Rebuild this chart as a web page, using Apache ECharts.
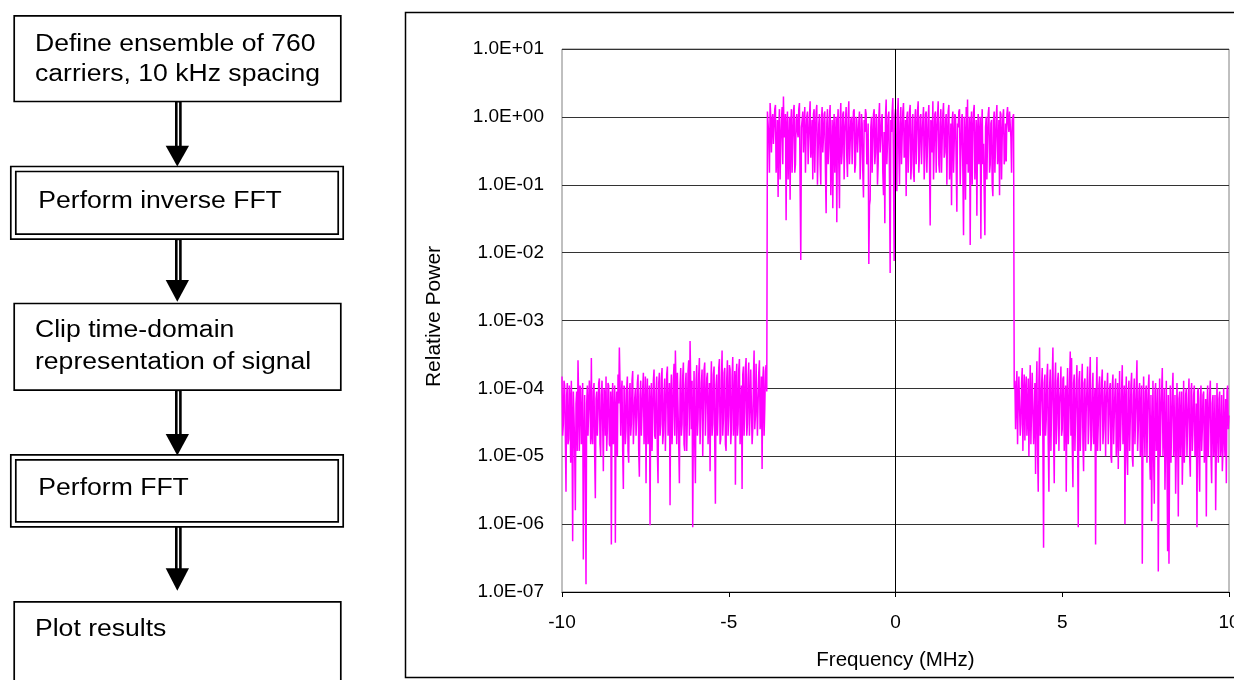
<!DOCTYPE html>
<html>
<head>
<meta charset="utf-8">
<title>Clipped OFDM spectrum</title>
<script src="https://cdn.jsdelivr.net/npm/echarts@6.0.0/dist/echarts.min.js"></script>
<style>
  html, body { margin: 0; padding: 0; background: #fff; }
  #chart { width: 1234px; height: 680px; }
</style>
</head>
<body>
<div id="chart"></div>
<script>
// FFT bin spacing and the first bin of each spectral region (MHz)
const BIN_STEP = 0.02;
const LOWER_START = -10;
const CARRIER_START = -3.84;
const UPPER_START = 3.56;

// Out-of-band regrowth below the carrier block (relative power)
const lowerSideband = [
  1.5e-4, 2e-5, 3e-5, 1.3e-4, 1.1e-4, 2e-5, 3e-6, 8e-5, 1.2e-4, 1.5e-5,
  1.8e-5, 1.1e-4, 7e-5, 8e-6, 1.3e-4, 3e-5, 5.6e-7, 9e-5, 4e-5, 1.2e-5,
  1.6e-6, 6e-5, 9e-5, 1.2e-5, 2.6e-4, 7e-5, 1.2e-5, 1.1e-4, 1e-4, 1.5e-5,
  3e-5, 1.2e-4, 3e-7, 1.5e-5, 8e-5, 1e-5, 1.3e-7, 6e-5, 1.1e-4, 2e-5,
  2e-5, 1.3e-4, 7e-5, 1.5e-5, 2.8e-4, 2e-5, 1.5e-5, 9e-5, 1.2e-4, 1e-5,
  2.4e-6, 7e-5, 9e-5, 2e-5, 4e-5, 1.2e-4, 1.4e-4, 1.5e-5, 1e-5, 8e-5,
  1.3e-4, 3e-5, 6e-6, 1e-4, 8e-5, 2e-5, 1.5e-4, 1.2e-5, 2.5e-5, 1.2e-4,
  1.1e-4, 1.5e-5, 1.4e-5, 9e-5, 5e-7, 6e-5, 1.2e-4, 1.5e-5, 3e-5, 1.1e-4,
  5.3e-7, 5e-5, 9e-5, 1e-5, 1.6e-4, 6e-5, 4e-4, 1.2e-4, 2e-5, 8e-5,
  1.3e-4, 1.2e-5, 3.3e-6, 1.1e-4, 1e-4, 1.5e-5, 2.5e-5, 1e-4, 1.5e-4, 1.2e-5,
  8e-6, 9e-5, 1.2e-4, 2e-5, 3e-5, 1.3e-4, 1.8e-4, 1.5e-5, 1.5e-5, 7e-5,
  1e-4, 2e-5, 4e-5, 1.2e-4, 1.6e-4, 1.2e-5, 5e-6, 8e-5, 1.3e-4, 2e-5,
  2e-5, 1e-4, 1.7e-4, 1.5e-5, 3.5e-5, 1.5e-4, 4e-6, 7e-5, 1.4e-4, 1.5e-5,
  2.5e-5, 1.1e-4, 9.6e-7, 6e-5, 1.2e-4, 1.2e-5, 4e-5, 1.3e-4, 1.9e-4, 2e-5,
  1.8e-5, 9e-5, 1.5e-4, 1.2e-5, 4e-6, 1.2e-4, 1.7e-4, 2e-5, 3e-5, 1.4e-4,
  2e-4, 1.5e-5, 2.2e-5, 9e-5, 1.4e-4, 1.2e-5, 4.5e-5, 1.6e-4, 2.1e-4, 2e-5,
  2e-5, 1.2e-4, 1.9e-6, 8e-5, 1.6e-4, 1.5e-5, 3.5e-5, 1.4e-4, 2.3e-4, 2e-5,
  3.6e-4, 1e-4, 1.5e-5, 1.7e-4, 1.8e-4, 1.5e-5, 4e-6, 1.1e-4, 2e-4, 2e-5,
  3e-5, 1.5e-4, 2.4e-4, 1.5e-5, 1.2e-5, 1.1e-4, 1.7e-4, 1.2e-5, 4e-5, 1.8e-4,
  2.6e-4, 2e-5, 5e-4, 1.2e-4, 2.5e-5, 1.3e-4, 9e-7, 4e-5, 1.8e-4, 1.5e-5,
  4e-6, 1.3e-4, 2.2e-4, 2e-5, 3.5e-5, 1.6e-4, 2.8e-4, 1.5e-5, 1.5e-5, 1.2e-4,
  1.9e-4, 1e-5, 5e-5, 1.9e-4, 2.4e-4, 2e-5, 2e-5, 1.4e-4, 1.7e-4, 1.5e-5,
  4e-5, 1.2e-4, 6e-6, 9e-5, 2.5e-4, 2e-5, 3e-5, 1.6e-4, 2.1e-4, 1.5e-5,
  2e-6, 1.1e-4, 1.6e-4, 2e-5, 4.5e-5, 2e-4, 2.7e-4, 1.5e-5, 1.8e-5, 1.3e-4,
  3.6e-4, 2e-5, 3.5e-5, 1.7e-4, 2e-4, 1.5e-5, 1.2e-5, 1.4e-4, 2.6e-4, 2e-5,
  4e-5, 2.2e-4, 1.9e-4, 1.5e-5, 2.5e-5, 1.5e-4, 2.9e-4, 2e-5, 5e-5, 1.8e-4,
  3.8e-6, 1.3e-4, 2.3e-4, 2e-5, 3e-5, 1.9e-4, 2.7e-4, 1.5e-5, 1.5e-5, 1.1e-4,
  3.3e-6, 1.6e-4, 2.1e-4, 2e-5, 4.5e-5, 2e-4, 2.8e-4, 2e-5, 3e-5, 1.4e-4,
  2.4e-4, 2e-5, 5e-5, 1.9e-4, 1.8e-4, 1.5e-5, 2.5e-5, 1.5e-4, 3.6e-4, 2.5e-5,
  4e-5, 2.3e-4, 2.2e-4, 2e-5, 6e-5, 1.7e-4, 2.6e-4, 2.5e-5, 3.5e-5, 1.5e-4,
  6.5e-6, 1.3e-4, 2.1e-4, 2e-5, 5e-5, 1.8e-4, 2.2e-4, 9e-5
];

// The 760 occupied carriers after clipping
const carrierBand = [
  1.2, 0.8, 0.5, 0.15, 1.6, 1.0, 0.3, 0.9, 1.1, 0.4,
  0.7, 1.3, 1.5, 0.15, 0.25, 0.9, 0.066, 0.7, 1.3, 0.12,
  0.4, 0.9, 1.4, 0.2, 2.0, 0.5, 0.6, 1.1, 0.03, 0.7,
  1.2, 0.12, 0.35, 1.0, 0.06, 0.8, 1.3, 0.15, 0.45, 1.2,
  1.5, 0.15, 0.2, 0.9, 1.1, 0.6, 0.5, 1.3, 1.6, 0.09,
  0.0078, 0.7, 0.9, 1.2, 0.3, 0.8, 1.4, 0.15, 0.55, 1.0,
  1.2, 0.2, 0.2, 1.0, 1.7, 0.25, 0.4, 0.9, 0.12, 1.1,
  1.3, 0.15, 0.6, 1.2, 1.5, 0.1, 0.3, 0.8, 1.1, 0.2,
  0.1, 0.9, 1.4, 0.3, 0.5, 1.1, 1.2, 0.15, 0.038, 0.8,
  1.3, 0.2, 0.35, 1.0, 1.5, 0.07, 0.25, 0.9, 0.045, 0.6,
  1.1, 0.15, 0.5, 1.0, 0.028, 0.8, 1.3, 0.2, 0.045, 0.9,
  1.6, 0.2, 0.3, 1.1, 1.2, 0.12, 0.6, 0.9, 1.4, 0.25,
  0.13, 1.0, 1.7, 0.2, 0.4, 0.9, 1.0, 0.2, 0.6, 1.2,
  1.3, 0.15, 0.2, 1.0, 0.9, 0.3, 0.5, 0.85, 1.2, 0.12,
  0.3, 1.1, 0.8, 0.15, 0.065, 0.9, 0.6, 1.3, 1.1, 0.2,
  0.25, 0.8, 0.0068, 0.05, 0.06, 0.7, 1.0, 0.15, 0.4, 1.1,
  1.3, 0.2, 0.3, 1.1, 0.9, 0.1, 0.2, 1.0, 1.6, 0.3,
  0.5, 0.9, 1.1, 0.15, 0.07, 0.6, 0.027, 1.0, 1.8, 0.2,
  0.4, 1.0, 1.2, 0.12, 0.005, 0.9, 0.6, 1.2, 1.9, 0.15,
  0.0075, 1.0, 1.3, 0.2, 0.08, 1.1, 1.9, 0.3, 0.1, 0.8,
  1.4, 0.2, 0.5, 1.2, 1.6, 0.25, 0.3, 0.9, 0.068, 1.0,
  1.2, 0.15, 0.45, 1.2, 1.5, 0.12, 0.2, 0.9, 1.1, 0.15,
  0.11, 0.9, 1.3, 0.2, 0.6, 1.2, 1.7, 0.15, 0.3, 1.0,
  1.1, 0.2, 0.5, 0.9, 1.4, 0.12, 0.25, 1.1, 1.2, 0.15,
  0.4, 1.0, 1.5, 0.2, 0.025, 0.9, 0.8, 0.3, 1.7, 0.12,
  0.35, 1.1, 1.2, 0.15, 0.6, 1.0, 1.7, 0.2, 0.15, 0.8,
  1.3, 0.15, 0.45, 1.1, 1.6, 0.25, 0.3, 0.9, 1.1, 0.1,
  0.5, 1.2, 1.5, 0.12, 0.2, 0.8, 0.05, 0.9, 1.2, 0.15,
  0.4, 1.1, 1.0, 0.2, 0.04, 0.8, 0.7, 1.2, 1.3, 0.1,
  0.3, 0.9, 1.1, 0.15, 0.018, 1.0, 0.5, 0.06, 1.4, 0.2,
  1.8, 0.15, 0.25, 1.0, 0.013, 0.7, 1.2, 0.1, 0.6, 1.2,
  1.5, 0.12, 0.3, 0.9, 0.035, 0.6, 1.1, 0.2, 0.5, 1.0,
  0.016, 0.6, 1.3, 0.2, 0.4, 0.08, 0.018, 0.7, 1.0, 0.12,
  0.5, 1.1, 1.4, 0.15, 0.2, 0.8, 0.9, 0.1, 0.068, 0.9,
  1.2, 0.15, 0.4, 1.0, 1.5, 0.2, 0.3, 0.9, 0.07, 1.2,
  1.1, 0.12, 0.5, 1.0, 1.3, 0.2, 0.25, 0.8, 0.22, 1.1,
  1.4, 0.8, 0.6, 1.2, 1.2, 0.5, 0.15, 0.9, 1.0, 1.1
];

// Out-of-band regrowth above the carrier block (relative power)
const upperSideband = [
  1e-4, 1.3e-4, 2.5e-5, 8e-5, 1.8e-4, 1.5e-5, 6e-5, 1.5e-4, 1.6e-4, 2e-5,
  3e-5, 1.2e-4, 2e-4, 1.2e-5, 8e-5, 1.6e-4, 1.7e-5, 9e-5, 1.5e-4, 2e-5,
  4e-5, 1.4e-4, 1e-5, 6e-5, 2.2e-4, 1.5e-5, 5e-5, 1.7e-4, 1.8e-4, 1.5e-5,
  3e-5, 1.2e-4, 5.5e-6, 8e-5, 2.5e-4, 1.2e-5, 3e-6, 1.3e-4, 4e-4, 2e-5,
  6e-5, 1.1e-4, 2e-4, 1.5e-5, 4.5e-7, 1.2e-4, 1.6e-4, 2e-5, 3.5e-5, 1.5e-4,
  2.3e-4, 1.5e-5, 3e-6, 1e-4, 1.9e-4, 1.2e-5, 5e-5, 1.4e-4, 4e-4, 2e-5,
  4e-6, 1.2e-4, 2.4e-4, 1.5e-5, 3e-5, 1.3e-4, 1.7e-4, 1.2e-5, 6e-5, 9e-5,
  2.1e-4, 2e-5, 2.5e-5, 1.4e-4, 1.5e-4, 1.2e-5, 4e-5, 1.1e-4, 3e-6, 7e-5,
  2e-4, 1.5e-5, 3.5e-5, 1.3e-4, 3.5e-4, 2e-5, 2.8e-4, 1.5e-5, 3.5e-6, 1.2e-4,
  1.6e-4, 1.2e-5, 4e-5, 1.1e-4, 2.2e-4, 1.5e-5, 9e-7, 1.3e-4, 1.8e-4, 1.2e-5,
  3e-5, 1.1e-4, 2.3e-4, 1.5e-5, 6e-6, 1.2e-4, 1.4e-4, 1.2e-5, 5e-5, 1e-4,
  2.1e-4, 1.5e-5, 3e-5, 1.3e-4, 2.9e-4, 1.2e-5, 2e-5, 9e-5, 1.7e-4, 1.5e-5,
  4.5e-5, 1e-4, 5e-7, 7e-5, 2.9e-4, 1.2e-5, 3e-5, 1.1e-4, 1.5e-4, 1.2e-5,
  5e-5, 1.2e-4, 1.9e-4, 1.5e-5, 2.5e-5, 9e-5, 1.3e-4, 1e-5, 6e-5, 1e-4,
  1.7e-4, 1.5e-5, 3.5e-5, 1e-4, 1.2e-4, 1e-5, 8e-6, 1.1e-4, 1.6e-4, 1.5e-5,
  4e-5, 9e-5, 1.4e-4, 1e-5, 2e-5, 1.2e-4, 6.5e-6, 5e-5, 1.8e-4, 1.2e-5,
  3e-5, 1e-4, 2.2e-4, 1.5e-5, 4e-5, 1.1e-4, 1e-6, 6e-5, 1.5e-4, 1e-5,
  5.3e-6, 9e-5, 1.3e-4, 1.2e-5, 3.5e-5, 1.1e-4, 1.7e-4, 1e-5, 7e-6, 8e-5,
  1.4e-4, 1.5e-5, 4e-5, 1e-4, 2.6e-4, 1.2e-5, 2.5e-5, 9e-5, 1.2e-4, 1e-5,
  5e-5, 1.1e-4, 2.6e-7, 1.5e-5, 1.5e-4, 3e-5, 1e-5, 9e-5, 1.1e-4, 8e-6,
  4.5e-5, 1e-4, 1.6e-4, 1e-5, 4.5e-6, 8e-5, 1.1e-6, 1.5e-5, 1.3e-4, 1e-5,
  2e-6, 9e-5, 1.2e-4, 1.2e-5, 3e-5, 1e-4, 2e-7, 1.5e-5, 1.4e-4, 1e-5,
  4e-5, 9e-5, 2e-4, 1e-5, 2.5e-5, 1e-4, 3.2e-6, 1.5e-5, 1.3e-4, 1e-5,
  4e-7, 8e-5, 2.6e-7, 1.2e-5, 1.1e-4, 8e-6, 3e-5, 9e-5, 1.7e-4, 1e-5,
  2e-5, 8e-5, 2.8e-6, 1.2e-5, 1.2e-4, 3e-5, 1.3e-6, 7e-5, 9e-5, 1e-5,
  3.5e-5, 9e-5, 3.8e-6, 1.5e-5, 1.3e-4, 8e-6, 2e-5, 8e-5, 1e-4, 1e-5,
  3e-5, 7e-5, 1.4e-4, 1e-5, 5e-6, 9e-5, 1.2e-4, 1.2e-5, 2.5e-5, 8e-5,
  1.1e-4, 1e-5, 1.5e-5, 6e-5, 9e-7, 9e-5, 1e-4, 1e-5, 3e-6, 7e-5,
  1.1e-4, 1.2e-5, 2.5e-5, 8e-5, 9e-5, 8e-6, 1.5e-5, 7e-5, 1.3e-6, 5e-5,
  1.1e-4, 1e-5, 3e-5, 8e-5, 1.3e-4, 1e-5, 4e-6, 6e-5, 8e-5, 1e-5,
  2e-5, 8e-5, 1.6e-6, 1.2e-5, 1.2e-4, 2.5e-5, 8e-6, 7e-5, 9e-5, 1e-5,
  1.5e-5, 8e-5, 6e-6, 1.2e-5, 1e-4, 2e-5, 1e-5, 7e-5, 4e-6, 9e-5,
  1.1e-4, 2.5e-5, 4e-5
];

// Axis ranges
const FREQ_MIN = -10, FREQ_MAX = 10, FREQ_TICK = 5;
const POWER_MIN = 1e-7, POWER_MAX = 10;

// Flowchart steps, top to bottom
const steps = [
  ['Define ensemble of 760', 'carriers, 10 kHz spacing'],
  ['Perform inverse FFT'],
  ['Clip time-domain', 'representation of signal'],
  ['Perform FFT'],
  ['Plot results']
];

const FONT = '"Liberation Sans", Arial, Helvetica, sans-serif';

function toPoints(start, values) {
  return values.map((v, i) => [+(start + i * BIN_STEP).toFixed(2), v]);
}
const spectrum = []
  .concat(toPoints(LOWER_START, lowerSideband))
  .concat(toPoints(CARRIER_START, carrierBand))
  .concat(toPoints(UPPER_START, upperSideband));

function sciLabel(v) {
  const e = Math.round(Math.log10(v));
  const mag = String(Math.abs(e)).padStart(2, '0');
  return '1.0E' + (e < 0 ? '-' : '+') + mag;
}

// ---- flowchart drawing helpers ----
const LINE_W = 1.7;
function frame(x0, y0, x1, y1) {
  return { type: 'rect', shape: { x: x0, y: y0, width: x1 - x0, height: y1 - y0 },
           style: { fill: 'none', stroke: '#000', lineWidth: LINE_W } };
}
function label(str, x, yMid) {
  return { type: 'text', x: x, y: yMid, scaleX: 1.155,
           style: { text: str, font: '23px ' + FONT, fill: '#000', align: 'left', verticalAlign: 'middle' } };
}
function arrow(yStart, yHead, yTip) {
  return [
    { type: 'rect', shape: { x: 175, y: yStart, width: 6.7, height: yHead - yStart + 1 }, style: { fill: '#000' } },
    { type: 'rect', shape: { x: 177.6, y: yStart + 1, width: 1.5, height: yHead - yStart }, style: { fill: '#fff' } },
    { type: 'polygon', shape: { points: [[165.7, yHead], [189, yHead], [177.3, yTip]] }, style: { fill: '#000' } }
  ];
}

const BOX_L = 14.2, BOX_R = 340.8;
const DBL_OL = 10.8, DBL_OR = 343.2, DBL_IL = 15.8, DBL_IR = 338.2;
const TEXT_X = 35, TEXT_X_DBL = 38.3;

const flow = [].concat(
  [frame(BOX_L, 15.8, BOX_R, 101.5),
   label(steps[0][0], TEXT_X, 44.5), label(steps[0][1], TEXT_X, 75)],
  arrow(101.5, 145.7, 166.5),
  [frame(DBL_OL, 166.5, DBL_OR, 239.2), frame(DBL_IL, 171.5, DBL_IR, 234.2),
   label(steps[1][0], TEXT_X_DBL, 202)],
  arrow(239.2, 280, 301.7),
  [frame(BOX_L, 303.5, BOX_R, 390.2),
   label(steps[2][0], TEXT_X, 331), label(steps[2][1], TEXT_X, 363)],
  arrow(390.2, 434, 455.5),
  [frame(DBL_OL, 454.8, DBL_OR, 526.8), frame(DBL_IL, 459.8, DBL_IR, 521.8),
   label(steps[3][0], TEXT_X_DBL, 489)],
  arrow(526.8, 568.3, 590.7),
  [frame(BOX_L, 601.8, BOX_R, 720),
   label(steps[4][0], TEXT_X, 630)],
  // frame around the spectrum plot
  [{ type: 'rect', shape: { x: 405.5, y: 12.5, width: 900, height: 665 },
     style: { fill: 'none', stroke: '#000', lineWidth: 1.5 } }]
);

const chart = echarts.init(document.getElementById('chart'), null, { renderer: 'canvas' });
chart.setOption({
  animation: false,
  backgroundColor: '#fff',
  textStyle: { fontFamily: FONT },
  graphic: { elements: flow },
  grid: {
    left: 562, right: 5, top: 49, bottom: 88,
    show: true, borderColor: '#808080', borderWidth: 1,
    containLabel: false, outerBoundsMode: 'none'
  },
  xAxis: {
    type: 'value', min: FREQ_MIN, max: FREQ_MAX, interval: FREQ_TICK,
    name: 'Frequency (MHz)', nameLocation: 'middle', nameGap: 58,
    nameTextStyle: { fontSize: 20.5, color: '#000', fontFamily: FONT },
    axisLine: { onZero: false, lineStyle: { color: '#000', width: 1 } },
    axisTick: { show: true, inside: false, length: 5, lineStyle: { color: '#000' } },
    axisLabel: { margin: 21, fontSize: 19, color: '#000', fontFamily: FONT, showMaxLabel: true, showMinLabel: true },
    splitLine: { show: false }
  },
  yAxis: {
    type: 'log', logBase: 10, min: POWER_MIN, max: POWER_MAX, splitNumber: 8,
    name: 'Relative Power', nameLocation: 'middle', nameGap: 117,
    nameTextStyle: { fontSize: 21, color: '#000', fontFamily: FONT, padding: [0, 0, 0, 8] },
    axisLine: { show: false },
    axisTick: { show: false },
    axisLabel: { margin: 18, fontSize: 19, color: '#000', fontFamily: FONT, formatter: sciLabel },
    splitLine: { show: true, lineStyle: { color: '#333', width: 1 } }
  },
  series: [{
    name: 'Relative Power',
    type: 'line',
    data: spectrum,
    showSymbol: false,
    symbol: 'none',
    color: '#ff00ff',
    lineStyle: { color: '#ff00ff', width: 1.5 },
    z: 3,
    markLine: {
      silent: true,
      symbol: ['none', 'none'],
      label: { show: false },
      lineStyle: { color: '#000', width: 1, type: 'solid' },
      data: [{ xAxis: 0 }]
    }
  }]
});
</script>
</body>
</html>
